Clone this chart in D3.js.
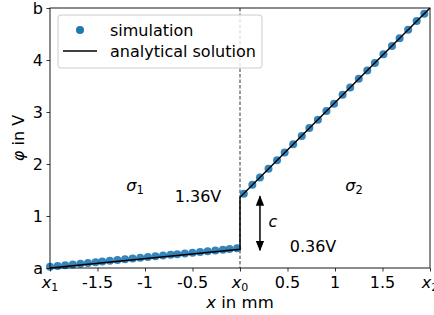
<!DOCTYPE html>
<html><head><meta charset="utf-8">
<script src="https://cdn.jsdelivr.net/npm/d3@7"></script>
<style>
body{margin:0;background:#fff;}
svg{font-family:"DejaVu Sans",sans-serif;}
</style></head>
<body><svg id="c" width="434" height="315"></svg>
<script>
// ---- data ----
const simLeftX = [-2.00,-1.92,-1.84,-1.76,-1.68,-1.60,-1.52,-1.45,-1.37,-1.29,-1.21,-1.13,-1.05,-0.97,-0.89,-0.81,-0.73,-0.66,-0.58,-0.50,-0.42,-0.34,-0.26,-0.18,-0.11,-0.03];
const simLeftY = [0.025,0.039,0.054,0.068,0.083,0.097,0.111,0.124,0.138,0.153,0.167,0.182,0.196,0.210,0.225,0.239,0.254,0.266,0.281,0.295,0.309,0.324,0.338,0.353,0.365,0.380];
const simRightX = [0.04,0.13,0.21,0.30,0.39,0.47,0.56,0.65,0.73,0.82,0.91,0.99,1.08,1.16,1.25,1.34,1.42,1.51,1.60,1.68,1.77,1.86,1.94];
const simRightY = [1.43,1.60,1.74,1.91,2.07,2.22,2.38,2.54,2.69,2.85,3.02,3.16,3.33,3.47,3.64,3.80,3.94,4.11,4.27,4.42,4.58,4.75,4.89];
const analyticX = [-2, 0, 0, 2];
const analyticY = [0, 0.36, 1.36, 5];
const xTickVals = [-2,-1.5,-1,-0.5,0,0.5,1,1.5,2];
const xTickLabels = ["x1","-1.5","-1","-0.5","x0","0.5","1","1.5","x2"];
const yTickVals = [0,1,2,3,4,5];
const yTickLabels = ["a","1","2","3","4","b"];
const jumpTop = 1.36, jumpBottom = 0.36, arrowX = 0.21;

// ---- layout ----
const svg = d3.select("#c");
const L=50, T=8, R=430, B=268;
const x = d3.scaleLinear().domain([-2,2]).range([L,R]);
const y = d3.scaleLinear().domain([0,5]).range([B,T]);

// dashed vertical at x0
svg.append("line").attr("x1",x(0)).attr("x2",x(0)).attr("y1",T).attr("y2",B)
  .attr("stroke","#000").attr("stroke-width",0.8).attr("stroke-dasharray","3.5,2");

// simulation points
const sim = simLeftX.map((v,i)=>[v,simLeftY[i]]).concat(simRightX.map((v,i)=>[v,simRightY[i]]));
svg.append("g").selectAll("circle").data(sim).enter().append("circle")
  .attr("cx",d=>x(d[0])).attr("cy",d=>y(d[1])).attr("r",4)
  .attr("fill","#1f77b4").attr("fill-opacity",0.9);

// analytical
const line = d3.line().x(d=>x(d[0])).y(d=>y(d[1]));
svg.append("path").datum(analyticX.map((v,i)=>[v,analyticY[i]]))
  .attr("d",line).attr("fill","none").attr("stroke","#000").attr("stroke-width",1.5);

// arrow
const defs = svg.append("defs");
defs.append("marker").attr("id","ah").attr("viewBox","0 0 10 10").attr("refX",9).attr("refY",5)
  .attr("markerWidth",7).attr("markerHeight",7).attr("orient","auto-start-reverse")
  .append("path").attr("d","M0,1 L10,5 L0,9 z").attr("fill","#000");
svg.append("line").attr("x1",x(arrowX)).attr("x2",x(arrowX))
  .attr("y1",y(jumpTop)-1).attr("y2",y(jumpBottom)+1)
  .attr("stroke","#000").attr("stroke-width",1.5)
  .attr("marker-start","url(#ah)").attr("marker-end","url(#ah)");

// axes
const xAxis = d3.axisBottom(x).tickValues(xTickVals).tickSize(3.5).tickFormat(()=>"");
const gx = svg.append("g").attr("transform",`translate(0,${B})`).call(xAxis);
const yAxis = d3.axisLeft(y).tickValues(yTickVals).tickSize(3.5).tickFormat(()=>"");
const gy = svg.append("g").attr("transform",`translate(${L},0)`).call(yAxis);
[gx,gy].forEach(g=>{g.select(".domain").remove(); g.selectAll("line").attr("stroke","#000").attr("stroke-width",0.8);});

// spines
svg.append("rect").attr("x",L).attr("y",T).attr("width",R-L).attr("height",B-T)
  .attr("fill","none").attr("stroke","#000").attr("stroke-width",0.9);

// x tick labels
xTickVals.forEach((v,i)=>{
  const lab = xTickLabels[i];
  const t = svg.append("text").attr("x",x(v)).attr("y",B+20).attr("text-anchor","middle")
    .attr("font-size",16).attr("fill","#000");
  if(/^x\d$/.test(lab)){
    t.append("tspan").attr("font-style","italic").text("x");
    t.append("tspan").attr("font-size",11).attr("dy",2.5).text(lab[1]);
  } else t.text(lab);
});
// y tick labels
yTickVals.forEach((v,i)=>{
  svg.append("text").attr("x",L-7).attr("y",y(v)+5.5).attr("text-anchor","end")
    .attr("font-size",16).attr("fill","#000").text(yTickLabels[i]);
});

// axis labels
const xl = svg.append("text").attr("x",(L+R)/2).attr("y",308).attr("text-anchor","middle").attr("font-size",16.5);
xl.append("tspan").attr("font-style","italic").text("x");
xl.append("tspan").text(" in mm");
const yl = svg.append("text").attr("transform",`translate(24,${(T+B)/2}) rotate(-90)`).attr("text-anchor","middle").attr("font-size",16);
yl.append("tspan").attr("font-style","italic").text("φ");
yl.append("tspan").text(" in V");

// annotations
svg.append("text").attr("x",198).attr("y",202).attr("text-anchor","middle").attr("font-size",16).text("1.36V");
svg.append("text").attr("x",313).attr("y",252).attr("text-anchor","middle").attr("font-size",16).text("0.36V");
svg.append("text").attr("x",273).attr("y",227).attr("text-anchor","middle").attr("font-size",16).attr("font-style","italic").text("c");
const s1 = svg.append("text").attr("x",135).attr("y",191).attr("text-anchor","middle").attr("font-size",16);
s1.append("tspan").attr("font-style","italic").text("σ");
s1.append("tspan").attr("font-size",11.5).attr("dy",3).text("1");
const s2 = svg.append("text").attr("x",354).attr("y",191).attr("text-anchor","middle").attr("font-size",16);
s2.append("tspan").attr("font-style","italic").text("σ");
s2.append("tspan").attr("font-size",11.5).attr("dy",3).text("2");

// legend
const lg = svg.append("g");
lg.append("rect").attr("x",58).attr("y",15).attr("width",204).attr("height",53).attr("rx",3)
  .attr("fill","#fff").attr("fill-opacity",0.8).attr("stroke","#ccc").attr("stroke-width",1);
lg.append("circle").attr("cx",80).attr("cy",30).attr("r",4).attr("fill","#1f77b4");
lg.append("text").attr("x",110).attr("y",36).attr("font-size",16).text("simulation");
lg.append("line").attr("x1",63).attr("x2",97).attr("y1",51).attr("y2",51).attr("stroke","#000").attr("stroke-width",1.5);
lg.append("text").attr("x",110).attr("y",57).attr("font-size",16).text("analytical solution");
</script></body></html>
